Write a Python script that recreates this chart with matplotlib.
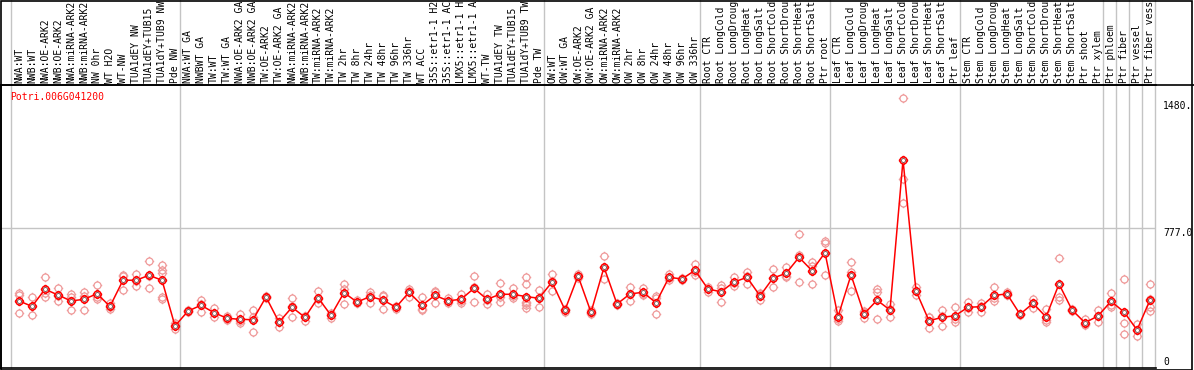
import matplotlib
matplotlib.use("Agg")
import matplotlib.pyplot as plt
from matplotlib.path import Path
from matplotlib.transforms import blended_transform_factory
from matplotlib.patches import Rectangle
from matplotlib.lines import Line2D

gene = "Potri.006G041200"

labels = [
    # group 1
    "NWA:WT", "NWB:WT", "NWA:OE-ARK2", "NWB:OE-ARK2", "NWA:miRNA-ARK2", "NWB:miRNA-ARK2",
    "NW 0hr", "WT H2O", "WT-NW", "TUA1dEY NW", "TUA1dEY+TUB15", "TUA1dY+TUB9 NW", "Pde NW",
    # group 2
    "NWA:WT GA", "NWBWT GA", "TW:WT", "TW:WT GA", "NWA:OE-ARK2 GA", "NWB:OE-ARK2 GA",
    "TW:OE-ARK2", "TW:OE-ARK2 GA", "NWA:miRNA-ARK2", "NWB:miRNA-ARK2", "TW:miRNA-ARK2",
    "TW:miRNA-ARK2", "TW 2hr", "TW 8hr", "TW 24hr", "TW 48hr", "TW 96hr", "TW 336hr", "WT ACC",
    "35S::etr1-1 H2", "35S::etr1-1 AC", "LMX5::etr1-1 H", "LMX5::etr1-1 A", "WT-TW",
    "TUA1dEY TW", "TUA1dEY+TUB15", "TUA1dY+TUB9 TW", "Pde TW",
    # group 3
    "OW:WT", "OW:WT GA", "OW:OE-ARK2", "OW:OE-ARK2 GA", "OW:miRNA-ARK2", "OW:miRNA-ARK2",
    "OW 2hr", "OW 8hr", "OW 24hr", "OW 48hr", "OW 96hr", "OW 336hr",
    # root
    "Root CTR", "Root LongCold", "Root LongDroug", "Root LongHeat", "Root LongSalt",
    "Root ShortCold", "Root ShortDrou", "Root ShortHeat", "Root ShortSalt", "Ptr root",
    # leaf
    "Leaf CTR", "Leaf LongCold", "Leaf LongDroug", "Leaf LongHeat", "Leaf LongSalt",
    "Leaf ShortCold", "Leaf ShortDrou", "Leaf ShortHeat", "Leaf ShortSalt", "Ptr leaf",
    # stem
    "Stem CTR", "Stem LongCold", "Stem LongDroug", "Stem LongHeat", "Stem LongSalt",
    "Stem ShortCold", "Stem ShortDrou", "Stem ShortHeat", "Stem ShortSalt", "Ptr shoot",
    "Ptr xylem",
    "Ptr phloem", "Ptr fiber", "Ptr vessel", "Ptr fiber vess",
]
group_sizes = [13, 28, 12, 10, 10, 11, 1, 1, 1, 1]

means = [
    372, 342, 437, 405, 372, 381, 412, 342, 487, 487, 514, 487, 233,
    316, 348, 307, 276, 270, 268, 394, 254, 337, 281, 390, 292, 418, 366, 396, 377,
    337, 420, 348, 403, 373, 381, 442, 381, 409, 409, 396, 387,
    477, 322, 511, 309, 559, 355, 411, 420, 362, 503, 494, 542,
    438, 423, 477, 503, 400, 499, 525, 614, 540, 640,
    285, 516, 300, 376, 322, 1154, 427, 262, 281, 290,
    337, 340, 403, 411, 298, 359, 283, 466, 322, 251, 289,
    370, 311, 211, 377,
]

reps = [
    [418, 403, 304], [392, 292], [503, 392, 418], [442, 372, 400], [411, 322, 392],
    [420, 322, 400], [461, 385, 392], [362, 326, 338], [516, 433, 512], [522, 457, 482],
    [592, 442, 508], [572, 545, 525, 392, 383], [215, 248, 236],
    [316, 320, 312], [377, 312, 355], [331, 285, 305], [289, 266, 273], [300, 248, 262],
    [322, 201, 281], [394, 390, 398], [276, 229, 257], [387, 281, 343], [262, 290, 291],
    [427, 359, 384], [304, 276, 296], [466, 437, 353], [377, 360, 361], [423, 359, 406],
    [405, 326, 400], [326, 340, 345], [438, 396, 426], [392, 322, 330], [423, 359, 427],
    [387, 359, 373], [411, 359, 373], [511, 364, 451], [411, 355, 377], [470, 364, 393],
    [442, 387, 398], [507, 466, 359, 348, 331, 366], [433, 340, 388],
    [522, 427, 482], [312, 330, 324], [520, 500, 513], [322, 300, 305], [622, 492, 563],
    [350, 360, 355], [448, 372, 413], [442, 405, 413], [400, 300, 386], [520, 490, 499],
    [500, 488, 494], [575, 516, 535],
    [451, 423, 440], [461, 364, 444], [507, 455, 469], [534, 466, 509], [414, 377, 409],
    [548, 448, 501], [562, 503, 510], [744, 627, 477], [590, 466, 564], [706, 695, 516],
    [322, 262, 271], [586, 429, 533], [276, 310, 314], [437, 272, 419], [355, 285, 326],
    [1497, 1047, 914], [451, 405, 425], [285, 220, 281], [322, 235, 286], [340, 257, 273],
    [368, 312, 331], [362, 312, 346], [448, 373, 388], [423, 406, 404], [298, 302, 294],
    [383, 331, 363], [326, 257, 266], [609, 396, 377], [322, 318, 326], [270, 242, 241],
    [322, 257, 288],
    [418, 340, 352], [492, 248, 187], [244, 178, 211], [466, 340, 318, 384],
]

ref_ticks = [1480, 777.0, 0]
ref_tick_text = ["1480.", "777.0", "0"]
y_top = 1570

# circle marker with four little ticks
circ = Path.unit_circle()
tk = Path([(0, 1), (0, 1.35), (0, -1), (0, -1.35), (1, 0), (1.35, 0), (-1, 0), (-1.35, 0)],
          [Path.MOVETO, Path.LINETO] * 4)
gear = Path.make_compound_path(circ, tk)

W, H = 1194, 370
fig = plt.figure(figsize=(W / 100, H / 100), dpi=100)
ax = fig.add_axes([1 / W, 2 / H, 1155 / W, 283 / H])
n = len(labels)
xs = list(range(n))
ax.set_xlim(-1.385, 87.46)
ax.set_ylim(0, y_top)
ax.set_xticks([])
ax.set_yticks([])
ax.spines["right"].set_visible(False)
for s in ["left", "bottom", "top"]:
    ax.spines[s].set_color("black")
    ax.spines[s].set_linewidth(1.2)

grey = "#c4c4c4"
bt = blended_transform_factory(ax.transData, ax.transAxes)
bounds = [-0.62]
c = 0
for g in group_sizes:
    c += g
    bounds.append(c - 1 + 0.385)
ax.vlines(bounds, 0, 1.31, colors=grey, lw=1, transform=bt, clip_on=False, zorder=1)
ax.axhline(777.0, color=grey, lw=1, zorder=1)

# replicates
for i, r in enumerate(reps):
    ax.plot([i] * len(r), r, ls="none", marker=gear, ms=6.8, mfc="none",
            mec="#ef9a9a", mew=0.9, zorder=2)
ax.plot(xs, means, color="red", lw=1.1, zorder=3)
ax.plot(xs, means, ls="none", marker=gear, ms=6.8, mfc="white", mec="red", mew=1.1, zorder=4)
ax.plot(xs, means, ls="none", marker="o", ms=2.8, mfc="none", mec="#400000", mew=0.45, zorder=5)

for i, lab in enumerate(labels):
    ax.text(i, 1.0 + 2 / 283, lab, transform=bt, rotation=90, ha="center", va="bottom",
            fontsize=7, family="DejaVu Sans Mono", clip_on=False)

ax.text(0.0075, 0.958, gene, transform=ax.transAxes, color="red", fontsize=7,
        family="DejaVu Sans Mono", va="center", ha="left")

yt = blended_transform_factory(ax.transAxes, ax.transData)
for v, t in zip(ref_ticks, ref_tick_text):
    ax.text(1.0063, v if v > 0 else 8, t, transform=yt, fontsize=7,
            family="DejaVu Sans Mono", ha="left", va="top" if v > 0 else "bottom",
            clip_on=False)

fig.add_artist(Line2D([0, 1], [1 - 85 / H, 1 - 85 / H], color="black", lw=1.2,
                      transform=fig.transFigure))
fig.add_artist(Rectangle((0.0005, 0.001), 0.998, 0.997, fill=False, edgecolor="black",
                         lw=1.2, transform=fig.transFigure))

fig.savefig("out.png", dpi=100)
